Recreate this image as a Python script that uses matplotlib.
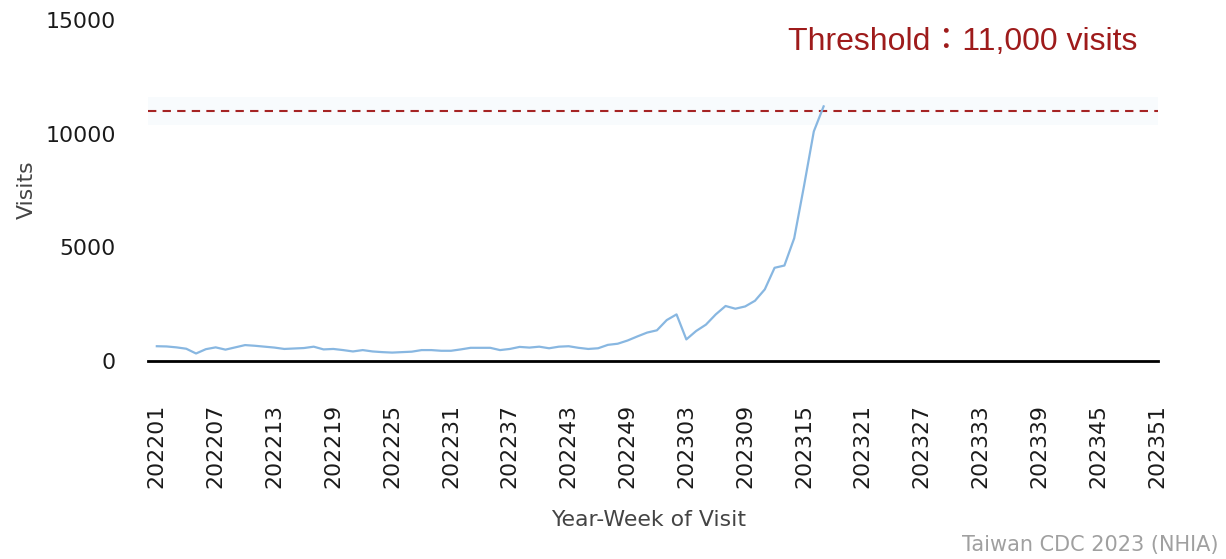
import matplotlib
matplotlib.use("Agg")
import matplotlib.pyplot as plt

# year-week categories, 2022 wk01 .. 2023 wk52
weeks = [f"2022{w:02d}" for w in range(1, 53)] + [f"2023{w:02d}" for w in range(1, 53)]

# weekly visits, 202201 .. 202317
visits = [650, 640, 600, 540, 330, 520, 600, 500, 600, 700,
          670, 630, 590, 530, 550, 570, 630, 510, 530, 480,
          420, 480, 420, 390, 370, 390, 410, 480, 480, 450,
          450, 510, 580, 580, 580, 480, 530, 620, 590, 630,
          560, 630, 650, 580, 530, 560, 710, 760, 900, 1080,
          1250, 1350, 1800, 2050, 950, 1320, 1600, 2050, 2420, 2300,
          2400, 2650, 3150, 4100, 4200, 5400, 7700, 10100, 11200]

threshold = 11000
tick_labels = ["202201", "202207", "202213", "202219", "202225", "202231",
               "202237", "202243", "202249", "202303", "202309", "202315",
               "202321", "202327", "202333", "202339", "202345", "202351"]
y_ticks = [0, 5000, 10000, 15000]

fig = plt.figure(figsize=(12.26, 5.59), dpi=100)
ax = fig.add_axes([148 / 1226, 1 - 361 / 559, 1010 / 1226, 341 / 559])

x = list(range(len(visits)))
ax.axhspan(threshold - 600, threshold + 600, color="#f8fbfd", lw=0, zorder=0)
ax.plot(x, visits, color="#88b7e1", lw=1.6, zorder=3)
ax.axhline(threshold, color="#a52424", ls=(0, (4, 3)), lw=1.5, zorder=2)

ax.set_xlim(-0.9, 102.1)
ax.set_ylim(0, 15000)

tick_pos = [weeks.index(t) for t in tick_labels]
ax.set_xticks(tick_pos)
ax.set_xticklabels(tick_labels, rotation=90, fontsize=15.8, color="#1a1a1a")
ax.set_yticks(y_ticks)
ax.set_yticklabels([str(v) for v in y_ticks], fontsize=15.8, color="#1a1a1a")
ax.tick_params(axis="x", length=0, pad=31)
ax.tick_params(axis="y", length=0, pad=23)

for s in ["top", "right", "left"]:
    ax.spines[s].set_visible(False)
ax.spines["bottom"].set_color("black")
ax.spines["bottom"].set_linewidth(2)

fig.text(27 / 1226, 1 - 190 / 559, "Visits", rotation=90, ha="center", va="center",
         fontsize=15.8, color="#444444")
fig.text(649 / 1226, 1 - 520 / 559, "Year-Week of Visit", ha="center", va="center",
         fontsize=15.8, color="#444444")
fig.text(1137 / 1226, 1 - 42 / 559, "Threshold：11,000 visits", ha="right", va="center",
         fontsize=23, color="#9e1b1b", family=["Liberation Sans", "Noto Sans CJK TC"])
fig.text(1218 / 1226, 1 - 545 / 559, "Taiwan CDC 2023 (NHIA)", ha="right", va="center",
         fontsize=15, color="#a0a0a0")

fig.savefig("out.png", dpi=100)
